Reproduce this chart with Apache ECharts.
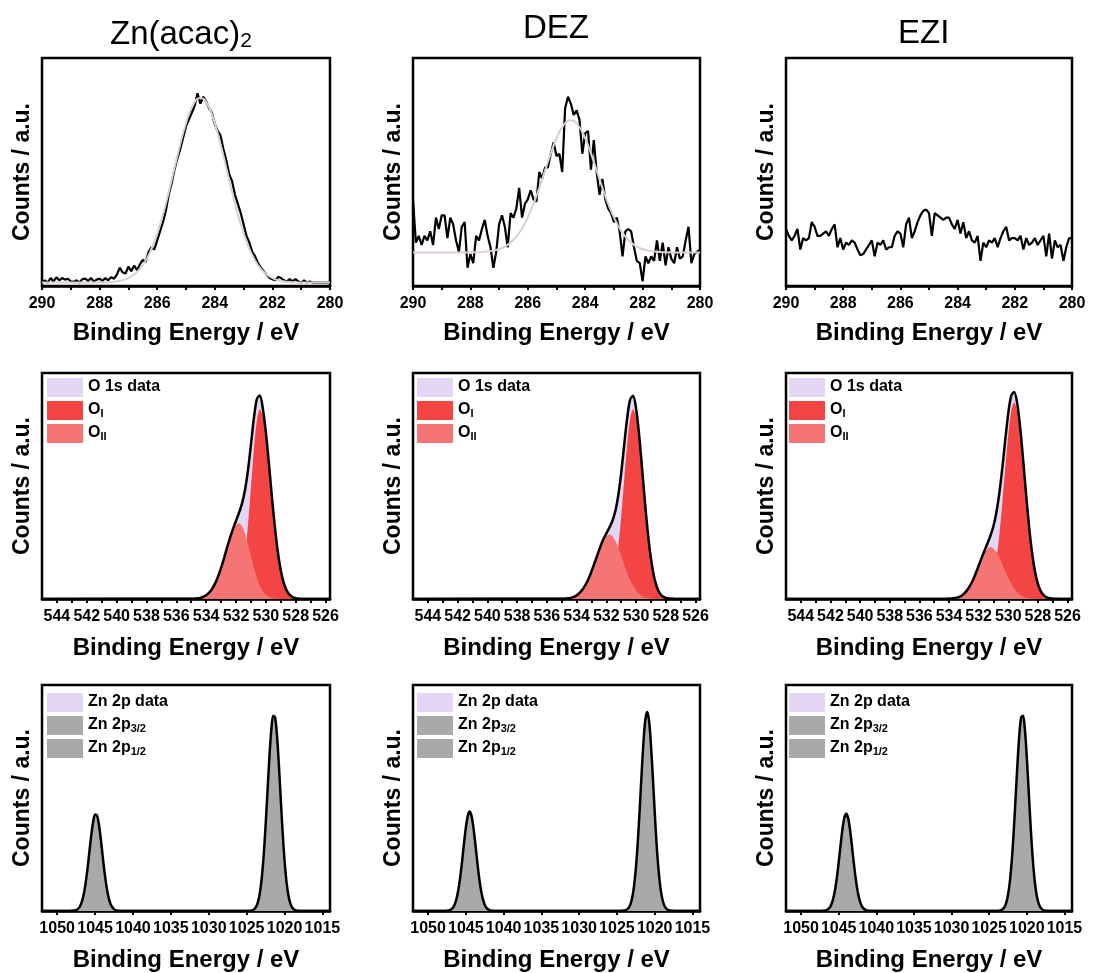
<!DOCTYPE html>
<html>
<head>
<meta charset="utf-8">
<script src="https://cdn.jsdelivr.net/npm/echarts@6/dist/echarts.min.js"></script>
<style>
html, body { margin: 0; padding: 0; background: #fff; }
#chart { width: 1094px; height: 973px; }
</style>
</head>
<body>
<div id="chart"></div>
<script>
// ---- C 1s (top row) ----
var c1sEnergy = [290.0,289.9,289.8,289.7,289.6,289.5,289.4,289.3,289.2,289.1,
    289.0,288.9,288.8,288.7,288.6,288.5,288.4,288.3,288.2,288.1,
    288.0,287.9,287.8,287.7,287.6,287.5,287.4,287.3,287.2,287.1,
    287.0,286.9,286.8,286.7,286.6,286.5,286.4,286.3,286.2,286.1,
    286.0,285.9,285.8,285.7,285.6,285.5,285.4,285.3,285.2,285.1,
    285.0,284.9,284.8,284.7,284.6,284.5,284.4,284.3,284.2,284.1,
    284.0,283.9,283.8,283.7,283.6,283.5,283.4,283.3,283.2,283.1,
    283.0,282.9,282.8,282.7,282.6,282.5,282.4,282.3,282.2,282.1,
    282.0,281.9,281.8,281.7,281.6,281.5,281.4,281.3,281.2,281.1,
    281.0,280.9,280.8,280.7,280.6,280.5,280.4,280.3,280.2,280.1,280.0];

var c1sZnacacData = [1.5,2.5,1.5,3.5,2.0,3.8,2.5,3.5,2.8,3.2,
    2.0,1.8,2.5,1.5,3.0,3.2,2.2,3.5,2.0,2.8,
    3.2,2.2,3.5,2.5,3.8,3.2,5.0,8.0,6.0,5.5,
    8.5,6.5,9.0,7.0,9.5,11.5,10.5,15.0,17.0,16.0,
    20,24,28,33,40,45,51,56,60,65,
    70,73,76,79,84.5,80,83,81,78,76,
    71,68,66,60,55,49,46,40,36,32,
    27,22,19,15,13,10,8,6.5,5,3.5,
    3,2.5,4,3.5,2.5,2.0,3.0,2.0,3.0,2.0,
    1.5,2.5,1.5,2.0,1.5,1.5,1.5,1.5,1.5,1.5,1.5];

var c1sDezData = [38,19,22,18,22,20,24,18,30,25,
    31,31,21,30,27,20,15,26,28,8,
    14,10,22,20,25,29,22,17,8,15,
    27,31,26,17,32,30,34,43,30,36,
    38,42,38,37,50,47,52,52,58,63,
    57,58,50,78,83,80,75,77,73,58,
    67,68,51,64,50,40,47,38,34,32,
    28,30,24,13,24,25,24,17,11,10,
    2,13,10,13,11,20,11,19,9,17,
    12,10,17,12,13,20,26,10,14,15,16];

var c1sEziData = [25,22,20,22,25,16,21,20,21,28,
    26,22,22,23,24,22,25,27,17,21,
    16,19,18,20,19,16,13.5,14,16,18,
    20,13,19,18,20,16,17,17,22,24,
    23,17,27,30,21,24,28,31,33,33.5,
    32,22,32,31,30,29,30,30,27,25,
    29,23,28,21,24,20,19,22,11,19,
    17,20,19,21,17,21,24,26,20,21,
    21,20,22,16,21,18,19,21,18,20,
    22,13,23,12,20,17,18,11,17,21,21];

var c1sFitEnergy = [290,288.0,287.75,287.5,287.25,287.0,286.75,286.5,286.25,286.0,
    285.75,285.5,285.25,285.0,284.75,284.5,284.25,284.0,283.75,283.5,
    283.25,283.0,282.75,282.5,282.25,282.0,281.75,281.5,281.25,281.0,280];
var c1sZnacacFit = [1.5,1.5,1.6,1.9,2.4,3.5,5.6,9.1,14.8,23.0,
    33.7,46.4,59.6,71.4,79.6,82.5,79.6,71.4,59.6,46.4,
    33.7,23.0,14.8,9.1,5.6,3.5,2.4,1.9,1.6,1.5,1.5];
var c1sDezFit = [14.7,14.7,14.8,15.0,15.4,16.2,17.6,20.2,24.2,30.1,
    37.7,46.8,56.3,64.8,70.6,72.7,70.6,64.8,56.3,46.8,
    37.7,30.1,24.2,20.2,17.6,16.2,15.4,15.0,14.8,14.7,14.7];

// ---- O 1s (middle row) ----
var o1sEnergy = [535.0,534.8,534.6,534.4,534.2,534.0,533.8,533.6,533.4,533.2,
    533.0,532.8,532.6,532.4,532.2,532.0,531.8,531.6,531.4,531.2,
    531.0,530.8,530.6,530.4,530.2,530.0,529.8,529.6,529.4,529.2,
    529.0,528.8,528.6,528.4,528.2,528.0,527.8,527.6,527.4,527.2,527.0];

var o1sZnacacOI = [0,0,0,0,0,0,0,0,0,0,
    0,0,0.1,0.2,0.7,1.9,4.6,9.9,19.0,32.5,
    49.2,66.2,79.2,84,80.8,72.0,59.4,45.3,32.0,20.9,
    12.7,7.1,3.7,1.8,0.8,0.3,0.1,0,0,0,0];
var o1sZnacacOII = [0.1,0.1,0.3,0.5,1.0,1.7,2.8,4.5,6.9,10.0,
    13.8,18.1,22.6,26.8,30.3,32.7,33.5,32.3,29.1,24.3,
    19.0,13.8,9.3,5.9,3.4,1.9,1.0,0.45,0.2,0.1,
    0,0,0,0,0,0,0,0,0,0,0];
var o1sZnacacEnv = [0.1,0.1,0.3,0.5,1.0,1.7,2.8,4.5,6.9,10.0,
    13.8,18.1,22.7,27.0,31.0,34.6,38.1,42.2,48.1,56.8,
    68.2,80.0,88.5,89.9,84.2,73.9,60.4,45.8,32.2,21.0,
    12.7,7.1,3.7,1.8,0.8,0.3,0.1,0,0,0,0];
var o1sZnacacData = [0.1,0.1,0.3,0.5,1.0,1.7,2.8,4.5,6.9,10.0,
    13.8,18.1,22.7,27.0,31.0,34.6,38.1,42.2,48.1,56.8,
    68.2,80.0,89.5,91.5,85.5,74.2,60.6,46.0,32.4,21.2,
    12.9,7.3,3.9,2.0,0.9,0.4,0.2,0,0,0,0];

var o1sDezOI = [0,0,0,0,0,0,0,0,0,0,
    0,0,0,0.2,0.5,1.2,3.0,6.6,12.9,22.9,
    36.5,52.6,68.2,79.7,84,80.4,70.7,56.9,42.0,28.5,
    17.7,10.1,5.3,2.5,1.1,0.5,0.2,0.1,0,0,0];
var o1sDezOII = [0.1,0.1,0.3,0.5,0.9,1.6,2.7,4.2,6.3,8.9,
    12.2,15.8,19.5,23.0,25.9,27.8,28.5,27.8,25.8,22.8,
    19.2,15.4,11.7,8.5,5.9,3.9,2.4,1.4,0.8,0.4,
    0.2,0.1,0,0,0,0,0,0,0,0,0];
var o1sDezEnv = [0.1,0.1,0.3,0.5,0.9,1.6,2.7,4.2,6.3,8.9,
    12.2,15.8,19.5,23.2,26.4,29.0,31.5,34.4,38.7,45.7,
    55.7,68.0,79.9,88.2,89.9,84.3,73.1,58.3,42.8,28.9,
    17.9,10.2,5.3,2.5,1.1,0.5,0.2,0.1,0,0,0];
var o1sDezData = [0.3,0.5,0.4,0.6,1.0,1.7,2.8,4.3,6.4,9.0,
    12.3,15.9,19.6,23.3,26.6,29.4,32.2,35.3,39.5,46.3,
    56.0,68.2,80.2,88.6,90.4,84.6,73.3,58.5,43.0,29.1,
    18.1,10.4,5.5,2.7,1.4,0.9,0.6,0.5,0.4,0.5,0.3];

var o1sEziOI = [0,0,0,0,0,0,0,0,0,0,
    0,0,0,0,0,0.1,0.4,1.0,2.4,5.1,
    9.9,17.6,28.6,42.7,58.3,72.8,83.2,87,83.6,74.2,
    60.7,45.9,32.0,20.6,12.2,6.7,3.4,1.6,0.7,0.3,0.1];
var o1sEziOII = [0,0,0,0,0,0.1,0.2,0.4,0.7,1.3,
    2.3,3.7,5.7,8.2,11.3,14.6,17.8,20.5,22.3,23,
    22.4,20.8,18.4,15.4,12.3,9.4,6.8,4.6,3.0,1.9,
    1.1,0.6,0.3,0.2,0.1,0,0,0,0,0,0];
var o1sEziEnv = [0,0,0,0,0,0.1,0.2,0.4,0.7,1.3,
    2.3,3.7,5.7,8.2,11.3,14.7,18.2,21.5,24.7,28.1,
    32.3,38.4,47.0,58.1,70.6,82.2,90.0,91.6,86.6,76.1,
    61.8,46.5,32.3,20.8,12.3,6.7,3.4,1.6,0.7,0.3,0.1];
var o1sEziData = o1sEziEnv;

// ---- Zn 2p (bottom row) ----
var zn2p12Energy = [1048.5,1048.25,1048.0,1047.75,1047.5,1047.25,1047.0,1046.75,1046.5,1046.25,
    1046.0,1045.75,1045.5,1045.25,1045.0,1044.75,1044.5,1044.25,1044.0,1043.75,
    1043.5,1043.25,1043.0,1042.75,1042.5,1042.25,1042.0,1041.75,1041.5,1041.25,
    1041.0,1040.75,1040.5];
var zn2p32Energy = [1025.0,1024.75,1024.5,1024.25,1024.0,1023.75,1023.5,1023.25,1023.0,1022.75,
    1022.5,1022.25,1022.0,1021.75,1021.5,1021.25,1021.0,1020.75,1020.5,1020.25,
    1020.0,1019.75,1019.5,1019.25,1019.0,1018.75,1018.5,1018.25,1018.0,1017.75,
    1017.5,1017.25,1017.0];

var zn2pZnacac12 = [0,0,0.1,0.2,0.4,0.9,2.0,4.0,7.3,12.2,
    18.6,26.1,33.5,39.5,42.7,42.3,38.5,32.1,24.5,17.2,
    11.1,6.5,3.5,1.8,0.8,0.3,0.1,0,0,0,
    0,0,0];
var zn2pZnacac32 = [0,0,0.1,0.3,0.8,1.9,4.1,8.1,14.8,24.6,
    37.7,52.8,67.8,79.9,86.4,85.7,77.9,64.9,49.7,34.8,
    22.4,13.2,7.2,3.5,1.6,0.7,0.3,0.1,0,0,
    0,0,0];
var zn2pDez12 = [0,0,0,0,0.1,0.2,0.6,1.3,2.8,5.3,
    9.3,14.9,22.0,29.8,37.0,42.1,44,42.1,37.0,29.8,
    22.0,14.9,9.3,5.3,2.8,1.3,0.6,0.2,0.1,0,
    0,0,0];
var zn2pDez32 = [0,0,0,0.1,0.2,0.5,1.2,2.6,5.5,10.6,
    18.6,29.8,44.0,59.6,74.0,84.3,88,84.3,74.0,59.6,
    44.0,29.8,18.6,10.6,5.5,2.6,1.2,0.5,0.2,0.1,
    0,0,0];
var zn2pEzi12 = [0,0,0,0,0,0,0.1,0.2,0.6,1.3,
    2.7,5.2,9.1,14.6,21.5,29.1,36.2,41.2,43,41.2,
    36.2,29.1,21.5,14.6,9.1,5.2,2.7,1.3,0.6,0.2,
    0.1,0,0];
var zn2pEzi32 = [0,0,0,0,0,0.1,0.3,0.7,1.6,3.5,
    7.2,13.2,22.4,34.8,49.7,64.9,77.9,85.7,86.4,79.9,
    67.8,52.8,37.7,24.6,14.8,8.1,4.1,1.9,0.8,0.3,
    0.1,0,0];

// ---- tick labels ----
var c1sTicks = [280,281,282,283,284,285,286,287,288,289,290];
var c1sLabels = [280,282,284,286,288,290];
var o1sTicks = [526,527,528,529,530,531,532,533,534,535,536,537,538,539,540,541,542,543,544];
var o1sLabels = [526,528,530,532,534,536,538,540,542,544];
var zn2pTicks = [1015,1020,1025,1030,1035,1040,1045,1050];
var zn2pLabels = [1015,1020,1025,1030,1035,1040,1045,1050];

var sampleTitles = ['{m|Zn(acac)}{s|2}', '{m|DEZ}', '{m|EZI}'];

// ---- layout ----
var FONT = 'Liberation Sans, Arial, sans-serif';
var cols = [{ left: 42, width: 288 }, { left: 413, width: 287 }, { left: 786, width: 286 }];
var rows = [{ top: 58, height: 228 }, { top: 373, height: 226 }, { top: 685, height: 226 }];
var rowRange = [[280, 290], [525.7, 545], [1014, 1052]];
var rowTicks = [c1sTicks, o1sTicks, zn2pTicks];
var rowLabels = [c1sLabels, o1sLabels, zn2pLabels];
var nameGaps = [35, 37, 37];

function pts(xs, ys) {
    return xs.map(function (x, i) { return [x, ys[i]]; });
}

var grids = [], xAxes = [], yAxes = [], series = [], legends = [];

for (var i = 0; i < 9; i++) {
    var r = Math.floor(i / 3), c = i % 3;
    grids.push({
        left: cols[c].left, top: rows[r].top, width: cols[c].width, height: rows[r].height,
        show: true, borderColor: '#000', borderWidth: 2.5
    });
    xAxes.push({
        type: 'value', gridIndex: i, inverse: true,
        min: rowRange[r][0], max: rowRange[r][1],
        axisLine: { show: true, lineStyle: { color: '#000', width: 2.5 } },
        axisTick: { show: true, inside: false, length: 4, customValues: rowTicks[r],
            lineStyle: { color: '#000', width: 2 } },
        axisLabel: { customValues: rowLabels[r], margin: 10, fontSize: 16, fontWeight: 'bold',
            color: '#000', fontFamily: FONT, formatter: function (v) { return String(v); } },
        splitLine: { show: false },
        name: 'Binding Energy / eV', nameLocation: 'middle', nameGap: nameGaps[r],
        nameTextStyle: { fontSize: 24, fontWeight: 'bold', color: '#000', fontFamily: FONT }
    });
    yAxes.push({
        type: 'value', gridIndex: i, min: 0, max: 100,
        axisLine: { show: false }, axisTick: { show: false },
        axisLabel: { show: false }, splitLine: { show: false },
        name: 'Counts / a.u.', nameLocation: 'middle', nameRotate: 90, nameGap: 8,
        nameTextStyle: { fontSize: 23, fontWeight: 'bold', color: '#000', fontFamily: FONT }
    });
}

// top row: raw C 1s data and fits
var c1sData = [c1sZnacacData, c1sDezData, c1sEziData];
var c1sFit = [c1sZnacacFit, c1sDezFit, null];
for (var p = 0; p < 3; p++) {
    series.push({
        type: 'line', xAxisIndex: p, yAxisIndex: p, data: pts(c1sEnergy, c1sData[p]),
        showSymbol: false, lineStyle: { color: '#000', width: 2.2 }, z: 2
    });
    if (c1sFit[p]) {
        series.push({
            type: 'line', xAxisIndex: p, yAxisIndex: p, data: pts(c1sFitEnergy, c1sFit[p]),
            showSymbol: false, smooth: true, lineStyle: { color: '#dccfcf', width: 2 }, z: 3
        });
    }
}

function areaSeries(idx, name, color, data) {
    return {
        type: 'line', name: name, xAxisIndex: idx, yAxisIndex: idx, data: data,
        showSymbol: false, smooth: 0.3, color: color,
        itemStyle: { color: color }, lineStyle: { width: 0, color: color },
        areaStyle: { color: color, opacity: 1 }
    };
}
function envSeries(idx, data) {
    return {
        type: 'line', name: 'fit', xAxisIndex: idx, yAxisIndex: idx, data: data,
        showSymbol: false, smooth: 0.3,
        lineStyle: { color: '#000', width: 2.5 }, z: 5
    };
}

var LAV = '#e2d6f2', RED = '#f44545', PINK = '#f57575', GREY = '#a9a9a9';

// middle row: O 1s
var o1s = [
    [o1sZnacacData, o1sZnacacOI, o1sZnacacOII, o1sZnacacEnv],
    [o1sDezData, o1sDezOI, o1sDezOII, o1sDezEnv],
    [o1sEziData, o1sEziOI, o1sEziOII, o1sEziEnv]
];
var o1sX = [545].concat(o1sEnergy, [525.7]);
function padZ(a) { return [0].concat(a, [0]); }
for (var p = 0; p < 3; p++) {
    var idx = 3 + p;
    series.push(areaSeries(idx, 'O 1s data', LAV, pts(o1sX, padZ(o1s[p][0]))));
    series.push(areaSeries(idx, 'O_I', RED, pts(o1sX, padZ(o1s[p][1]))));
    series.push(areaSeries(idx, 'O_II', PINK, pts(o1sX, padZ(o1s[p][2]))));
    series.push(envSeries(idx, pts(o1sX, padZ(o1s[p][3]))));
}

// bottom row: Zn 2p
var zn = [[zn2pZnacac12, zn2pZnacac32], [zn2pDez12, zn2pDez32], [zn2pEzi12, zn2pEzi32]];
var znX = [1052].concat(zn2p12Energy, zn2p32Energy, [1014]);
for (var p = 0; p < 3; p++) {
    var idx = 6 + p;
    var envY = [0].concat(zn[p][0], zn[p][1], [0]);
    series.push(areaSeries(idx, 'Zn 2p data', LAV, pts(znX, envY)));
    series.push(areaSeries(idx, 'Zn 2p3/2', GREY, pts(zn2p32Energy, zn[p][1])));
    series.push(areaSeries(idx, 'Zn 2p1/2', GREY, pts(zn2p12Energy, zn[p][0])));
    series.push(envSeries(idx, pts(znX, envY)));
}

var legendText = {
    'O 1s data': '{n|O 1s data}',
    'O_I': '{n|O}{sub|I}',
    'O_II': '{n|O}{sub|II}',
    'Zn 2p data': '{n|Zn 2p data}',
    'Zn 2p3/2': '{n|Zn 2p}{sub|3/2}',
    'Zn 2p1/2': '{n|Zn 2p}{sub|1/2}'
};
var legendLeft = [47, 417, 789];
var legendTop = [378, 693];
var legendNames = [['O 1s data', 'O_I', 'O_II'], ['Zn 2p data', 'Zn 2p3/2', 'Zn 2p1/2']];
for (var r = 0; r < 2; r++) {
    for (var c = 0; c < 3; c++) {
        legends.push({
            left: legendLeft[c], top: legendTop[r], orient: 'vertical', padding: 0,
            itemWidth: 36, itemHeight: 19, itemGap: 3, icon: 'rect', selectedMode: false,
            itemStyle: { borderWidth: 0 },
            data: legendNames[r],
            formatter: function (name) { return legendText[name]; },
            textStyle: {
                color: '#000', fontFamily: FONT, fontWeight: 'bold', fontSize: 16,
                rich: {
                    n: { fontSize: 16, fontWeight: 'bold', fontFamily: FONT, lineHeight: 17, verticalAlign: 'top' },
                    sub: { fontSize: 11, fontWeight: 'bold', fontFamily: FONT, lineHeight: 11,
                        padding: [8, 0, 0, 0], verticalAlign: 'bottom' }
                }
            }
        });
    }
}

var titleLeft = [110, 523, 898];
var titleTop = [18, 12, 17];
var titles = sampleTitles.map(function (t, k) {
    return {
        text: t, left: titleLeft[k], top: titleTop[k], padding: 0,
        textStyle: {
            fontWeight: 'normal', fontSize: 33, fontFamily: FONT, color: '#000',
            rich: {
                m: { fontSize: 33, fontWeight: 'normal', fontFamily: FONT, color: '#000',
                    lineHeight: 34, verticalAlign: 'top' },
                s: { fontSize: 21, fontWeight: 'normal', fontFamily: FONT, color: '#000',
                    lineHeight: 21, padding: [17, 0, 0, 0], verticalAlign: 'bottom' }
            }
        }
    };
});

var myChart = echarts.init(document.getElementById('chart'));
myChart.setOption({
    animation: false,
    backgroundColor: '#fff',
    title: titles,
    legend: legends,
    grid: grids,
    xAxis: xAxes,
    yAxis: yAxes,
    series: series
});
</script>
</body>
</html>
